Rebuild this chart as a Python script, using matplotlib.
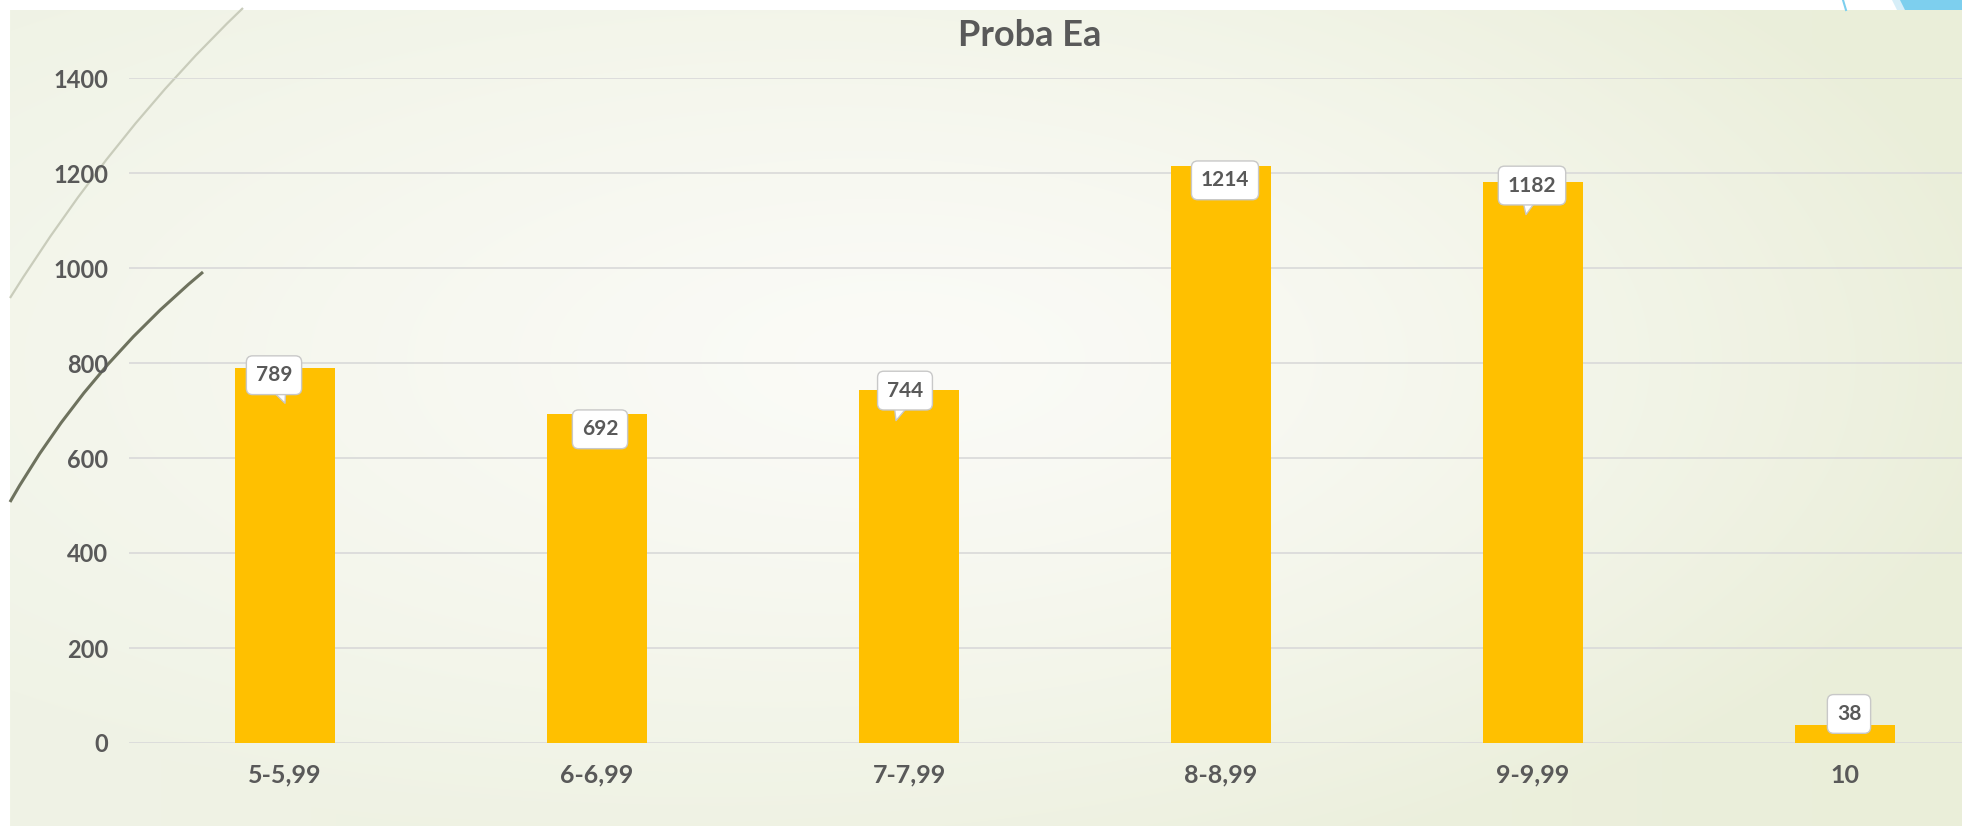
import matplotlib
matplotlib.use("Agg")
import matplotlib.pyplot as plt
import matplotlib.transforms as mtransforms
from matplotlib.path import Path
import matplotlib.patches as patches
import numpy as np

# data
categories = ["5-5,99", "6-6,99", "7-7,99", "8-8,99", "9-9,99", "10"]
values = [789, 692, 744, 1214, 1182, 38]
yticks = [0, 200, 400, 600, 800, 1000, 1200, 1400]
title = "Proba Ea"

# callout placement (pixels): box offset from bar top, tail tip offset (None = no tail)
label_offsets = [(-11, -7), (3, -15), (-4, -1), (4, -14), (-1, -4), (4, 11)]
tail_tips = [(0, -35), None, (-13, -31), None, (-7, -33), None]

txt_color = "#595959"
bar_color = "#FFC000"
grid_color = "#D9D9D9"
plt.rcParams['font.family'] = ['Lato', 'DejaVu Sans']

W, H = 1962, 826
fig = plt.figure(figsize=(W / 100, H / 100), dpi=100)
fig.patch.set_facecolor("white")

# background panel with soft gradient
bg = fig.add_axes([0, 0, 1, 1], zorder=-1)
bg.set_xlim(0, W)
bg.set_ylim(H, 0)
bg.axis("off")
yy, xx = np.mgrid[10:H, 10:W]
t = np.sqrt(((xx - 900) / 1150.0) ** 2 + ((yy - 360) / 520.0) ** 2)
t = np.clip(t, 0, 1)[..., None] ** 1.3
center = np.array([251, 251, 247]) / 255.0
left = np.array([240, 243, 230]) / 255.0
right = np.array([234, 238, 217]) / 255.0
s = ((xx - 10) / (W - 10.0))[..., None]
edge = left * (1 - s) + right * s
img = center * (1 - t) + edge * t
bg.imshow(img, extent=(10, W, H, 10), aspect="auto", interpolation="bilinear")

# decorative curves on the left
def bez(p0, p1, p2, color, lw):
    path = Path([p0, p1, p2], [Path.MOVETO, Path.CURVE3, Path.CURVE3])
    bg.add_patch(patches.PathPatch(path, fc="none", ec=color, lw=lw))

bez((243, 8), (115, 130), (10, 298), "#C9CCBB", 1.6)
bez((203, 272), (85, 370), (10, 502), "#6E725E", 2.2)

# blue corner shape top right
bg.add_patch(patches.Polygon([(1892, 0), (1962, 0), (1962, 10), (1897, 10)],
                             closed=True, fc="#D6EEF8", ec="none"))
bg.add_patch(patches.Polygon([(1900, 0), (1962, 0), (1962, 10), (1905, 10)],
                             closed=True, fc="#7DCFEE", ec="none"))
bg.plot([1843, 1846], [0, 10], color="#7DCFEE", lw=1.5)

# main chart
ax = fig.add_axes([129 / W, 83 / H, (2001 - 129) / W, (743 - 78) / H])
ax.set_facecolor("none")
x = np.arange(len(categories))
ax.bar(x, values, width=0.318, color=bar_color, zorder=2)
ax.set_xlim(-0.5, len(categories) - 0.5)
ax.set_ylim(0, 1400)
ax.set_yticks(yticks)
ax.set_xticks(x)
ax.set_xticklabels(categories)
ax.yaxis.grid(True, color=grid_color, lw=1.2, zorder=0)
ax.set_axisbelow(True)
for sp in ax.spines.values():
    sp.set_visible(False)
ax.tick_params(length=0, labelcolor=txt_color)
ax.tick_params(axis="y", pad=15, labelsize=17)
ax.tick_params(axis="x", pad=15, labelsize=18)
for lab in ax.get_xticklabels() + ax.get_yticklabels():
    lab.set_fontweight("bold")

fig.text(1030 / W, 1 - 36 / H, title, ha="center", va="center",
         fontsize=26, fontweight="bold", color=txt_color)

# data callouts
for i, v in enumerate(values):
    dx, dy = label_offsets[i]
    tip = tail_tips[i]
    if tip is not None:
        tip_tr = mtransforms.offset_copy(ax.transData, fig=fig, x=tip[0], y=tip[1], units="dots")
        arrow = dict(arrowstyle="wedge,tail_width=1.3", fc="white", ec="#C8C8C8",
                     lw=1, patchA=None, shrinkA=0, shrinkB=0)
        off = (dx - tip[0], dy - tip[1])
    else:
        tip_tr = ax.transData
        arrow = None
        off = (dx, dy)
    ax.annotate(str(v), xy=(i, v), xycoords=tip_tr, xytext=off,
                textcoords="offset pixels", ha="center", va="center",
                fontsize=15, fontweight="bold", color=txt_color, zorder=5,
                bbox=dict(boxstyle="round,pad=0.45,rounding_size=0.3",
                          fc="white", ec="#C8C8C8", lw=1),
                arrowprops=arrow)

fig.savefig("out.png", dpi=100)
